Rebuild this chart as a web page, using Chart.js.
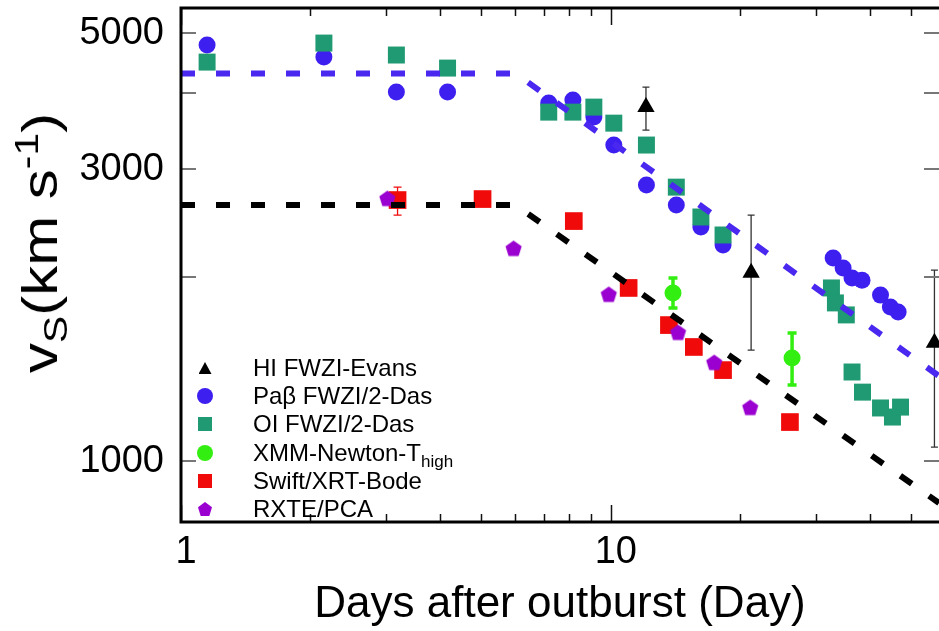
<!DOCTYPE html>
<html>
<head>
<meta charset="utf-8">
<script src="https://cdn.jsdelivr.net/npm/chart.js@4.4.1/dist/chart.umd.min.js"></script>
<style>
  body { margin: 0; background: #fff; overflow: hidden; }
  #wrap { position: relative; width: 939px; height: 631px; font-family: "Liberation Sans", Arial, sans-serif; color: #000; }
  #ytitle { position: absolute; left: 40px; top: 243px; transform: translate(-50%, -50%) rotate(-90deg) scaleX(1.2);
            font-size: 50px; line-height: 54px; white-space: nowrap; }
  #ytitle sub { font-size: 34px; vertical-align: -0.3em; line-height: 0; }
  #ytitle sup { font-size: 34px; vertical-align: 0.55em; line-height: 0; }
  .lg-mark { position: absolute; }
  .lg-text { position: absolute; left: 253px; font-size: 24px; line-height: 28px; white-space: nowrap; }
  .lg-text sub { font-size: 17px; vertical-align: -0.35em; line-height: 0; }
</style>
</head>
<body>
<div id="wrap">
  <canvas id="chart" width="939" height="631"></canvas>
  <div id="ytitle">v<sub>S</sub>(km s<sup>-1</sup>)</div>
  <div id="legend"></div>
</div>
<script>
// HI FWZI (Evans)
const hiDays = [12.07, 21.2, 56.6];
const hiVel = [3790, 2030, 1560];
const hiLow = [3474, 1518, 1054];
const hiHigh = [4085, 2523, 2051];

// Pa beta FWZI/2 (Das)
const pabDays = [1.15, 2.15, 3.17, 4.17, 7.17, 8.16, 9.13, 10.16, 12.1, 14.2, 16.2, 18.24,
                 32.9, 34.7, 36.4, 38.4, 42.4, 44.7, 46.6];
const pabVel = [4785, 4573, 4008, 4008, 3846, 3889, 3650, 3284, 2825, 2620, 2413, 2254,
                2146, 2067, 1991, 1975, 1867, 1785, 1752];

// OI FWZI/2 (Das)
const oiDays = [1.15, 2.15, 3.17, 4.17, 7.17, 8.16, 9.13, 10.16, 12.1, 14.2, 16.2, 18.24,
                32.6, 33.3, 35.3, 36.4, 38.5, 42.4, 45.2, 47.2];
const oiVel = [4487, 4820, 4608, 4387, 3717, 3717, 3788, 3566, 3284, 2803, 2505, 2341,
               1918, 1813, 1733, 1398, 1296, 1221, 1180, 1225];

// XMM-Newton T_high
const xmmDays = [13.95, 26.4];
const xmmVel = [1882, 1473];
const xmmLow = [1778, 1331];
const xmmHigh = [1991, 1619];

// Swift/XRT (Bode)
const swiftDays = [3.19, 5.03, 8.2, 11.0, 13.65, 15.6, 18.24, 26.1];
const swiftVel = [2670, 2680, 2467, 1918, 1668, 1536, 1408, 1158];
const swiftLow = [2523, null, null, null, null, null, null, null];
const swiftHigh = [2803, null, null, null, null, null, null, null];

// RXTE/PCA
const rxteDays = [3.02, 5.94, 9.89, 14.33, 17.4, 21.1];
const rxteVel = [2690, 2229, 1875, 1625, 1451, 1225];

// dashed model curves
const modelDays = [1, 6, 58];
const fastModel = [4300, 4300, 1377];
const slowModel = [2620, 2620, 854];

const xTickValues = [1, 2, 3, 4, 5, 6, 7, 8, 9, 10, 20, 30, 40, 50];
const xTickLabels = [1, 10];
const yTickValues = [1000, 2000, 3000, 4000, 5000];
const yTickLabels = [1000, 3000, 5000];

const FONT = '"Liberation Sans", Arial, sans-serif';

function pts(xs, ys) { return xs.map((d, i) => ({ x: d, y: ys[i] })); }

function pentagon(color, r) {
  const c = document.createElement('canvas');
  const s = Math.ceil(r * 2) + 2;
  c.width = c.height = s;
  const g = c.getContext('2d');
  g.fillStyle = color;
  g.beginPath();
  for (let k = 0; k < 5; k++) {
    const a = -Math.PI / 2 + k * 2 * Math.PI / 5;
    g.lineTo(s / 2 + r * Math.cos(a), s / 2 + 1 + r * Math.sin(a));
  }
  g.closePath();
  g.fill();
  return c;
}

const BLUE = '#3d1ff0', TEAL = '#1f9a72', GREEN = '#33ee11', RED = '#f00a0a', PURPLE = '#9a00d0';

const datasets = [
  { label: 'HI FWZI-Evans', legendHtml: 'HI FWZI-Evans', shape: 'tri', data: pts(hiDays, hiVel),
    pointStyle: 'triangle', pointRadius: 10, backgroundColor: '#000', borderWidth: 0, order: 1,
    errLow: hiLow, errHigh: hiHigh, errColor: '#333', errWidth: 1.3, capW: 7 },
  { label: 'Paβ FWZI/2-Das', legendHtml: 'Paβ FWZI/2-Das', shape: 'circle', data: pts(pabDays, pabVel),
    pointStyle: 'circle', pointRadius: 8.5, backgroundColor: BLUE, borderWidth: 0, order: 4 },
  { label: 'OI FWZI/2-Das', legendHtml: 'OI FWZI/2-Das', shape: 'square', data: pts(oiDays, oiVel),
    pointStyle: 'rect', pointRadius: 12, backgroundColor: TEAL, borderWidth: 0, order: 3 },
  { label: 'XMM-Newton-Thigh', legendHtml: 'XMM-Newton-T<sub>high</sub>', shape: 'circle', data: pts(xmmDays, xmmVel),
    pointStyle: 'circle', pointRadius: 8.5, backgroundColor: GREEN, borderWidth: 0, order: 2,
    errLow: xmmLow, errHigh: xmmHigh, errColor: GREEN, errWidth: 3.5, capW: 9 },
  { label: 'Swift/XRT-Bode', legendHtml: 'Swift/XRT-Bode', shape: 'square', data: pts(swiftDays, swiftVel),
    pointStyle: 'rect', pointRadius: 12.5, backgroundColor: RED, borderWidth: 0, order: 6,
    errLow: swiftLow, errHigh: swiftHigh, errColor: RED, errWidth: 1.3, capW: 8 },
  { label: 'RXTE/PCA', legendHtml: 'RXTE/PCA', shape: 'pent', data: pts(rxteDays, rxteVel),
    pointStyle: pentagon(PURPLE, 8.5), pointRadius: 8, backgroundColor: PURPLE, borderWidth: 0, order: 5 },
  { label: 'fast model', data: pts(modelDays, fastModel), showLine: true, borderColor: '#4a28f0',
    borderWidth: 6, borderDash: [14, 21], pointRadius: 0, order: 0 },
  { label: 'slow model', data: pts(modelDays, slowModel), showLine: true, borderColor: '#000',
    borderWidth: 6, borderDash: [14, 21], pointRadius: 0, order: 0 }
];

// error bars, drawn behind the markers
const errorBars = {
  id: 'errorBars',
  beforeDatasetsDraw(chart) {
    const { ctx, scales: { x, y } } = chart;
    chart.data.datasets.forEach(ds => {
      if (!ds.errLow) return;
      ctx.save();
      ctx.strokeStyle = ds.errColor;
      ctx.lineWidth = ds.errWidth;
      ds.data.forEach((p, i) => {
        if (ds.errLow[i] == null) return;
        const px = x.getPixelForValue(p.x);
        const lo = y.getPixelForValue(ds.errLow[i]);
        const hi = y.getPixelForValue(ds.errHigh[i]);
        ctx.beginPath();
        ctx.moveTo(px, lo); ctx.lineTo(px, hi);
        ctx.moveTo(px - ds.capW / 2, lo); ctx.lineTo(px + ds.capW / 2, lo);
        ctx.moveTo(px - ds.capW / 2, hi); ctx.lineTo(px + ds.capW / 2, hi);
        ctx.stroke();
      });
      ctx.restore();
    });
  }
};

// inward tick marks and the box
const frame = {
  id: 'frame',
  afterDraw(chart) {
    const { ctx, chartArea: a, scales: { x, y } } = chart;
    ctx.save();
    ctx.strokeStyle = '#111';
    ctx.lineWidth = 1.5;
    x.ticks.forEach(t => {
      const px = Math.round(x.getPixelForValue(t.value)) + 0.5;
      const len = xTickLabels.includes(t.value) ? 17 : 8;
      ctx.beginPath();
      ctx.moveTo(px, a.bottom); ctx.lineTo(px, a.bottom - len);
      ctx.moveTo(px, a.top); ctx.lineTo(px, a.top + len);
      ctx.stroke();
    });
    ctx.strokeStyle = '#777';
    ctx.lineWidth = 2;
    y.ticks.forEach(t => {
      const py = Math.round(y.getPixelForValue(t.value));
      ctx.beginPath();
      ctx.moveTo(a.left, py); ctx.lineTo(a.left + 15, py);
      ctx.moveTo(a.right, py); ctx.lineTo(a.right - 15, py);
      ctx.stroke();
    });
    ctx.strokeStyle = '#000';
    ctx.lineWidth = 3;
    ctx.strokeRect(a.left, a.top, a.right - a.left + 4, a.bottom - a.top);
    ctx.restore();
  }
};

function noPad(s) { s.paddingTop = s.paddingBottom = s.paddingLeft = s.paddingRight = 0; }

const chart = new Chart(document.getElementById('chart'), {
  type: 'scatter',
  data: { datasets },
  options: {
    responsive: false,
    animation: false,
    layout: { autoPadding: false, padding: { top: 8, left: 0, right: 0, bottom: 0 } },
    plugins: { legend: { display: false }, tooltip: { enabled: false } },
    scales: {
      x: {
        type: 'logarithmic', min: 1, max: 58, bounds: 'data',
        afterBuildTicks: s => { s.ticks = xTickValues.map(v => ({ value: v })); },
        afterFit: s => { s.height = 109; noPad(s); },
        grid: { display: false, drawTicks: false }, border: { display: false },
        ticks: { autoSkip: false, maxRotation: 0, padding: 8, labelOffset: 5, color: '#000',
                 font: { family: FONT, size: 38 },
                 callback: v => xTickLabels.includes(v) ? String(v) : '' },
        title: { display: true, text: 'Days after outburst (Day)', color: '#000',
                 font: { family: FONT, size: 44 }, padding: { top: 0, bottom: 0 } }
      },
      y: {
        type: 'logarithmic', min: 795, max: 5500, bounds: 'data',
        afterBuildTicks: s => { s.ticks = yTickValues.map(v => ({ value: v })); },
        afterFit: s => { s.width = 181; noPad(s); },
        grid: { display: false, drawTicks: false }, border: { display: false },
        ticks: { autoSkip: false, padding: 17, color: '#000',
                 font: { family: FONT, size: 38 },
                 callback: v => yTickLabels.includes(v) ? String(v) : '' }
      }
    }
  },
  plugins: [errorBars, frame]
});

// legend inside the plot, built from the datasets
const legend = document.getElementById('legend');
const shapes = {
  tri: { w: 13, h: 12, clip: 'polygon(50% 0, 100% 100%, 0 100%)' },
  circle: { w: 16, h: 16, radius: '50%' },
  square: { w: 14, h: 14 },
  pent: { w: 14, h: 14, clip: 'polygon(50% 0, 100% 38%, 81% 100%, 19% 100%, 0 38%)' }
};
chart.data.datasets.filter(ds => ds.shape).forEach((ds, i) => {
  const cy = 368 + i * 28.2;
  const sh = shapes[ds.shape];
  const m = document.createElement('div');
  m.className = 'lg-mark';
  m.style.cssText = `left:${205 - sh.w / 2}px;top:${cy - sh.h / 2}px;width:${sh.w}px;height:${sh.h}px;background:${ds.backgroundColor};` +
    (sh.radius ? `border-radius:${sh.radius};` : '') + (sh.clip ? `clip-path:${sh.clip};` : '');
  legend.appendChild(m);
  const t = document.createElement('div');
  t.className = 'lg-text';
  t.style.top = (cy - 14) + 'px';
  t.innerHTML = ds.legendHtml;
  legend.appendChild(t);
});
</script>
</body>
</html>
